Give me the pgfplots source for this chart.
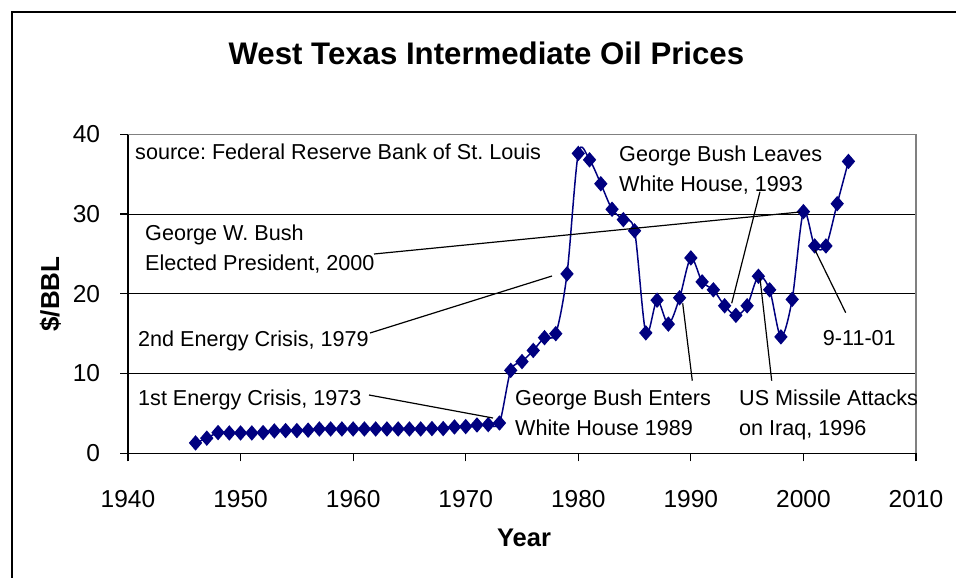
\documentclass[border=0pt]{standalone}
\usepackage{pgfplots}
\pgfplotsset{compat=1.18}
\usepackage{pgfplotstable}
\usepackage{fontspec}
\setmainfont{Liberation Sans}
\definecolor{navy}{RGB}{0,0,128}
\pgfplotstableread{
year price
1946 1.3
1947 1.9
1948 2.6
1949 2.55
1950 2.55
1951 2.55
1952 2.6
1953 2.8
1954 2.85
1955 2.85
1956 2.9
1957 3.05
1958 3.05
1959 3.05
1960 3.05
1961 3.05
1962 3.05
1963 3.05
1964 3.05
1965 3.05
1966 3.05
1967 3.1
1968 3.1
1969 3.3
1970 3.35
1971 3.55
1972 3.6
1973 3.8
1974 10.4
1975 11.5
1976 12.9
1977 14.5
1978 15.0
1979 22.5
1980 37.6
1981 36.8
1982 33.8
1983 30.6
1984 29.3
1985 27.9
1986 15.1
1987 19.2
1988 16.2
1989 19.5
1990 24.5
1991 21.5
1992 20.5
1993 18.5
1994 17.3
1995 18.5
1996 22.2
1997 20.5
1998 14.6
1999 19.3
2000 30.3
2001 26.0
2002 26.0
2003 31.3
2004 36.6
}\oildata
\begin{document}
\frenchspacing
\begin{tikzpicture}
\useasboundingbox (0pt,0pt) rectangle (956pt,-578pt);
\fill[white] (0pt,0pt) rectangle (956pt,-578pt);
\begin{axis}[
  at={(128pt,-453.3pt)}, anchor=south west,
  scale only axis, width=788pt, height=319pt,
  xmin=1940, xmax=2010, ymin=0, ymax=40,
  xtick={1940,1950,...,2010}, ytick={0,10,...,40},
  axis lines*=left,
  ymajorgrids, grid style={black, line width=1pt},
  tick align=outside, major tick length=8pt,
  tick style={black, line width=1.2pt},
  axis line style={black, line width=1.6pt},
  x tick label style={font=\fontsize{24.5pt}{28pt}\selectfont, anchor=north, inner sep=0pt, yshift=-29pt},
  y tick label style={font=\fontsize{24.5pt}{28pt}\selectfont, anchor=east, inner sep=0pt, xshift=-19.7pt},
  /pgf/number format/assume math mode=true,
  /pgf/number format/1000 sep={},
  clip=false,
]
\addplot[color=navy, line width=1.5pt, smooth, tension=0.5,
  mark=diamond*, mark size=6.6pt,
  mark options={solid, fill=navy, xscale=1.15}] table[x=year,y=price] {\oildata};
\draw[gray, line width=1.5pt] (rel axis cs:0,1) -- (rel axis cs:1,1) -- (rel axis cs:1,0);
\end{axis}
\begin{scope}[x=1pt,y=-1pt]
\draw[black, line width=2pt] (12,578) -- (12,12) -- (956,12);
\node[anchor=base, font=\fontsize{31.2pt}{36pt}\selectfont\bfseries, inner sep=0pt] at (486.4,65) {West Texas Intermediate Oil Prices};
\node[anchor=base, font=\fontsize{25.5pt}{30pt}\selectfont\bfseries, inner sep=0pt] at (524,546) {Year};
\node[rotate=90, font=\fontsize{26pt}{30pt}\selectfont\bfseries, inner sep=0pt] at (50.5,294) {\$/BBL};
\begin{scope}[every node/.style={anchor=base west, inner sep=0pt, font=\fontsize{21.6pt}{26pt}\selectfont}]
\node at (135,159.5) {source: Federal Reserve Bank of St. Louis};
\node at (619,161.7) {George Bush Leaves};
\node at (619,191.7) {White House, 1993};
\node at (145,240) {George W. Bush};
\node at (145,270) {Elected President, 2000};
\node at (138,346) {2nd Energy Crisis, 1979};
\node at (138,405) {1st Energy Crisis, 1973};
\node at (515,405) {George Bush Enters};
\node at (515,435) {White House 1989};
\node at (739,405) {US Missile Attacks};
\node at (739,435) {on Iraq, 1996};
\node at (822.7,345) {9-11-01};
\end{scope}
\begin{scope}[black, line width=1.2pt]
\draw (369,395) -- (493,418);
\draw (370,333) -- (552,276);
\draw (374,254) -- (800,212);
\draw (692.3,380.7) -- (682.7,303.3);
\draw (771.7,380.7) -- (760,278.3);
\draw (760,191.7) -- (731.7,303.3);
\draw (845.7,312.7) -- (815,250);
\end{scope}
\end{scope}
\end{tikzpicture}
\end{document}
